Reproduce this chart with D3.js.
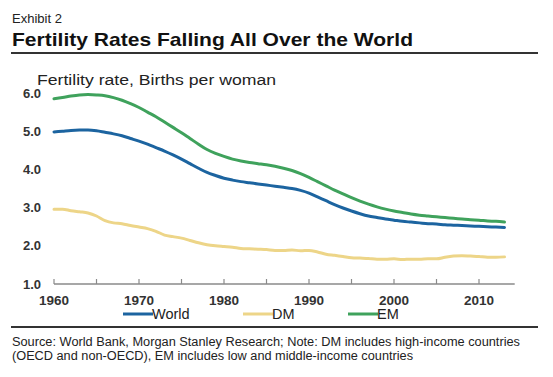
<!DOCTYPE html>
<html>
<head>
<meta charset="utf-8">
<script src="https://cdn.jsdelivr.net/npm/d3@7"></script>
<style>
  html, body { margin: 0; padding: 0; background: #fff; }
  svg { display: block; font-family: "Liberation Sans", Arial, sans-serif; }
</style>
</head>
<body>
<svg id="chart" width="553" height="377"></svg>
<script>
const years = d3.range(1960, 2014);
const world = [4.98,5.00,5.02,5.03,5.03,5.01,4.97,4.93,4.88,4.81,
               4.74,4.66,4.57,4.48,4.38,4.27,4.15,4.03,3.92,3.84,
               3.77,3.72,3.68,3.65,3.62,3.59,3.56,3.53,3.50,3.45,
               3.38,3.28,3.18,3.08,2.99,2.91,2.84,2.78,2.74,2.70,
               2.67,2.64,2.62,2.60,2.58,2.57,2.55,2.54,2.53,2.52,
               2.51,2.50,2.49,2.48];
const dm =    [2.96,2.96,2.92,2.89,2.86,2.78,2.66,2.60,2.58,2.53,
               2.49,2.45,2.38,2.28,2.24,2.20,2.14,2.08,2.03,2.00,
               1.98,1.96,1.93,1.92,1.91,1.90,1.88,1.88,1.89,1.87,
               1.88,1.84,1.78,1.75,1.72,1.69,1.68,1.67,1.65,1.65,
               1.66,1.64,1.65,1.65,1.66,1.66,1.70,1.73,1.74,1.73,
               1.72,1.70,1.70,1.71];
const em =    [5.85,5.88,5.92,5.95,5.96,5.95,5.93,5.88,5.81,5.72,
               5.62,5.50,5.38,5.24,5.10,4.96,4.81,4.66,4.52,4.42,
               4.34,4.27,4.22,4.18,4.15,4.12,4.08,4.03,3.97,3.89,
               3.79,3.68,3.57,3.46,3.36,3.26,3.17,3.09,3.02,2.96,
               2.91,2.87,2.83,2.80,2.78,2.76,2.74,2.72,2.70,2.68,
               2.67,2.65,2.64,2.62];
const seriesNames = ["World", "DM", "EM"];
const seriesColors = ["#1c64a0", "#edd588", "#3fa25c"];
const yTicks = [1, 2, 3, 4, 5, 6];
const xMajorTicks = [1960, 1970, 1980, 1990, 2000, 2010];
const xMinorTicks = [1965, 1975, 1985, 1995, 2005];

const svg = d3.select("#chart");

// Header
svg.append("text").attr("x", 12).attr("y", 23).attr("font-size", 12)
  .attr("textLength", 50).attr("lengthAdjust", "spacingAndGlyphs")
  .attr("fill", "#222").text("Exhibit 2");
svg.append("text").attr("x", 12).attr("y", 46).attr("font-size", 19)
  .attr("textLength", 401).attr("lengthAdjust", "spacingAndGlyphs")
  .attr("font-weight", "bold").attr("fill", "#111")
  .text("Fertility Rates Falling All Over the World");
svg.append("line").attr("x1", 11).attr("x2", 538).attr("y1", 53).attr("y2", 53)
  .attr("stroke", "#333").attr("stroke-width", 2);

// Scales
const x = d3.scaleLinear().domain([1960, 2010]).range([54, 479]);
const y = d3.scaleLinear().domain([1, 6]).range([284, 93]);

// Y axis label
svg.append("text").attr("x", 37).attr("y", 85).attr("font-size", 15.5)
  .attr("textLength", 239).attr("lengthAdjust", "spacingAndGlyphs")
  .attr("fill", "#222").text("Fertility rate, Births per woman");

// Y tick labels
svg.append("g").selectAll("text").data(yTicks).join("text")
  .attr("x", 41).attr("y", d => y(d)).attr("dy", "0.35em")
  .attr("text-anchor", "end").attr("font-size", 13).attr("font-weight", "bold")
  .attr("fill", "#333").text(d => d3.format(".1f")(d));

// X axis
const xAxisG = svg.append("g").attr("transform", `translate(0,${y(1)})`);
xAxisG.append("line").attr("x1", x(1960)).attr("x2", x(2014.2))
  .attr("stroke", "#8a8a8a").attr("stroke-width", 1.5);
xAxisG.selectAll("line.tick").data(xMajorTicks.concat(xMinorTicks)).join("line")
  .attr("class", "tick").attr("x1", d => x(d)).attr("x2", d => x(d))
  .attr("y1", 0).attr("y2", -5).attr("stroke", "#8a8a8a").attr("stroke-width", 1.2);
xAxisG.selectAll("text").data(xMajorTicks).join("text")
  .attr("x", d => x(d)).attr("y", 16).attr("dy", "0.35em")
  .attr("text-anchor", "middle").attr("font-size", 13.5).attr("font-weight", "bold")
  .attr("fill", "#333").text(d => d);

// Lines
const seriesData = [world, dm, em];
const line = d3.line().x((d, i) => x(years[i])).y(d => y(d)).curve(d3.curveMonotoneX);
svg.append("g").selectAll("path").data(seriesData).join("path")
  .attr("d", d => line(d)).attr("fill", "none")
  .attr("stroke", (d, i) => seriesColors[i]).attr("stroke-width", 3)
  .attr("stroke-linejoin", "round").attr("stroke-linecap", "round");

// Legend
const legendX = [123, 243, 348];
const lg = svg.append("g").selectAll("g").data(seriesNames).join("g")
  .attr("transform", (d, i) => `translate(${legendX[i]},314)`);
lg.append("line").attr("x1", 0).attr("x2", 30).attr("y1", 0).attr("y2", 0)
  .attr("stroke", (d, i) => seriesColors[i]).attr("stroke-width", 3);
lg.append("text").attr("x", 29).attr("y", 0).attr("dy", "0.35em")
  .attr("font-size", 14.5).attr("fill", "#222").text(d => d);

// Bottom rule and source
svg.append("line").attr("x1", 11).attr("x2", 538).attr("y1", 327).attr("y2", 327)
  .attr("stroke", "#333").attr("stroke-width", 2);
const sourceLines = [
  "Source: World Bank, Morgan Stanley Research; Note: DM includes high-income countries",
  "(OECD and non-OECD), EM includes low and middle-income countries"
];
const sourceWidths = [508, 401];
svg.append("g").selectAll("text").data(sourceLines).join("text")
  .attr("x", 12).attr("y", (d, i) => 346 + i * 13.5).attr("font-size", 12)
  .attr("textLength", (d, i) => sourceWidths[i]).attr("lengthAdjust", "spacingAndGlyphs")
  .attr("fill", "#222").text(d => d);
</script>
</body>
</html>
